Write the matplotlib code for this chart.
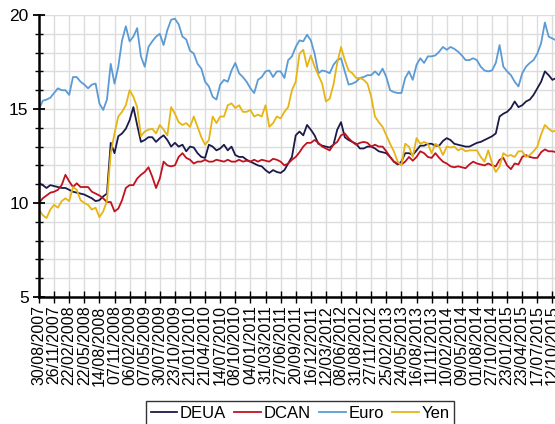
import numpy as np
import matplotlib
matplotlib.use("Agg")
import matplotlib.pyplot as plt
from matplotlib.ticker import MultipleLocator

plt.rcParams['font.family'] = ['Liberation Sans', 'DejaVu Sans']

tick_labels = [
    "30/08/2007", "26/11/2007", "22/02/2008", "22/05/2008", "14/08/2008",
    "07/11/2008", "06/02/2009", "07/05/2009", "30/07/2009", "23/10/2009",
    "21/01/2010", "21/04/2010", "14/07/2010", "08/10/2010", "04/01/2011",
    "31/03/2011", "27/06/2011", "20/09/2011", "16/12/2011", "12/03/2012",
    "08/06/2012", "31/08/2012", "27/11/2012", "25/02/2013", "24/05/2013",
    "16/08/2013", "11/11/2013", "10/02/2014", "09/05/2014", "01/08/2014",
    "27/10/2014", "23/01/2015", "23/04/2015", "17/07/2015", "12/10/2015",
]

deua = [
    11.05, 10.95, 10.8, 10.95, 10.9, 10.85, 10.8, 10.8, 10.7, 10.6, 10.55, 10.5,
    10.45, 10.35, 10.25, 10.1, 10.15, 10.35, 10.5, 13.2, 12.65, 13.55, 13.7, 13.95,
    14.4, 15.1, 14.15, 13.25, 13.35, 13.5, 13.5, 13.25, 13.45, 13.6, 13.35, 13.0,
    13.2, 13.0, 13.1, 12.75, 13.0, 12.95, 12.65, 12.45, 12.4, 13.1, 13.0, 12.8,
    12.9, 13.1, 12.8, 13.0, 12.55, 12.45, 12.45, 12.3, 12.2, 12.1, 12.0, 11.95,
    11.75, 11.6, 11.75, 11.65, 11.6, 11.75, 12.1, 12.45, 13.6, 13.8, 13.6, 14.15,
    13.9, 13.6, 13.15, 13.05, 13.0, 12.95, 13.1, 13.9, 14.3, 13.5, 13.35, 13.25,
    13.15, 12.9, 12.9, 13.0, 13.0, 12.9, 12.75, 12.7, 12.65, 12.45, 12.2, 12.05,
    12.2, 12.65, 12.65, 12.55, 12.8, 13.05, 13.05, 13.15, 13.15, 13.05, 13.05, 13.3,
    13.45, 13.35, 13.15, 13.1, 13.05, 13.0, 13.0, 13.1, 13.2, 13.25, 13.35, 13.45,
    13.55, 13.7, 14.6, 14.75, 14.85, 15.05, 15.4, 15.1, 15.2, 15.4, 15.5, 15.75,
    16.1, 16.45, 17.0, 16.8, 16.55, 16.65,
]

dcan = [
    10.0, 10.25, 10.4, 10.55, 10.6, 10.7, 10.95, 11.5, 11.15, 10.85, 11.05, 10.85,
    10.85, 10.85, 10.6, 10.5, 10.4, 10.25, 10.05, 10.05, 9.55, 9.7, 10.15, 10.8,
    10.95, 10.95, 11.3, 11.5, 11.65, 11.9, 11.4, 10.8, 11.3, 12.2, 12.0, 11.95,
    12.0, 12.45, 12.65, 12.4, 12.3, 12.1, 12.2, 12.2, 12.3, 12.2, 12.2, 12.3,
    12.25, 12.2, 12.3, 12.2, 12.2, 12.3, 12.2, 12.25, 12.2, 12.3, 12.2, 12.3,
    12.25, 12.2, 12.35, 12.3, 12.2, 12.0, 12.1, 12.3, 12.45, 12.7, 13.0, 13.2,
    13.2, 13.35, 13.2, 13.0, 12.9, 12.8, 13.1, 13.25, 13.6, 13.7, 13.45, 13.25,
    13.1, 13.2, 13.25, 13.2, 13.0, 13.1, 13.0, 13.0, 12.75, 12.45, 12.2, 12.1,
    12.05, 12.2, 12.45, 12.25, 12.45, 12.75, 12.65, 12.45, 12.4, 12.65, 12.4, 12.2,
    12.1, 11.95, 11.9, 11.95, 11.9, 11.85, 12.05, 12.2, 12.1, 12.05, 12.0, 12.1,
    12.0, 11.95, 12.3, 12.4, 12.0, 11.8, 12.1, 12.05, 12.45, 12.55, 12.45, 12.4,
    12.4, 12.7, 12.85, 12.75, 12.75, 12.7,
]

euro = [
    15.0, 15.44, 15.5, 15.6, 15.85, 16.1, 16.0, 16.0, 15.75, 16.7, 16.7, 16.45,
    16.3, 16.1, 16.3, 16.35, 15.3, 14.95, 15.5, 17.4, 16.35, 17.25, 18.65, 19.4,
    18.6, 18.85, 19.3, 17.8, 17.25, 18.3, 18.6, 18.85, 19.0, 18.4, 19.2, 19.75,
    19.8, 19.5, 18.85, 18.7, 18.1, 17.95, 17.4, 17.15, 16.45, 16.2, 15.65, 15.5,
    16.3, 16.55, 16.45, 17.05, 17.45, 16.9, 16.7, 16.45, 16.1, 15.85, 16.55, 16.7,
    17.0, 17.05, 16.7, 17.0, 17.0, 16.65, 17.6, 17.8, 18.3, 18.65, 18.6, 18.95,
    18.65, 17.95, 16.9, 17.05, 17.0, 16.9, 17.35, 17.6, 17.7, 17.0, 16.3, 16.35,
    16.45, 16.65, 16.7, 16.8, 16.8, 17.0, 16.8, 17.15, 16.7, 16.0, 15.9, 15.85,
    15.85, 16.65, 17.0, 16.55, 17.35, 17.7, 17.45, 17.8, 17.8, 17.85, 18.05, 18.3,
    18.15, 18.3, 18.2, 18.05, 17.85, 17.6, 17.6, 17.7, 17.6, 17.25, 17.05, 17.0,
    17.05, 17.45, 18.4, 17.25, 17.0, 16.8, 16.45, 16.2, 16.9, 17.25, 17.45, 17.6,
    17.95, 18.5, 19.6, 18.85, 18.75, 18.65,
]

yen = [
    9.65, 9.35, 9.2, 9.65, 9.9, 9.75, 10.1, 10.25, 10.1, 10.85, 10.7, 10.15,
    10.0, 9.9, 9.65, 9.75, 9.25, 9.55, 10.1, 12.65, 13.7, 14.6, 14.85, 15.2,
    16.0, 15.65, 15.1, 13.55, 13.8, 13.9, 13.95, 13.7, 14.15, 13.9, 13.6, 15.1,
    14.75, 14.3, 14.15, 14.25, 14.05, 14.6, 14.05, 13.5, 13.1, 13.35, 14.6, 14.25,
    14.6, 14.6, 15.2, 15.3, 15.05, 15.2, 14.85, 14.85, 14.95, 14.6, 14.7, 14.6,
    15.2, 14.05, 14.25, 14.6, 14.5, 14.85, 15.1, 16.0, 16.45, 17.95, 18.15, 17.25,
    17.85, 17.25, 16.8, 16.35, 15.4, 15.55, 16.3, 17.45, 18.3, 17.6, 17.05, 16.9,
    16.65, 16.65, 16.55, 16.35, 15.65, 14.6, 14.3, 14.05, 13.6, 13.15, 12.75, 12.2,
    12.0, 13.15, 13.0, 12.45, 13.45, 13.15, 13.25, 13.15, 12.65, 13.15, 13.0, 12.55,
    13.0, 12.95, 13.0, 12.8, 12.9, 12.75, 12.8, 12.8, 12.8, 12.45, 12.2, 12.8,
    12.1, 11.65, 11.95, 12.65, 12.5, 12.55, 12.45, 12.75, 12.75, 12.45, 12.55, 12.75,
    13.0, 13.65, 14.15, 13.95, 13.8, 13.85,
]

series = [("DEUA", deua, "#1c1a4a"), ("DCAN", dcan, "#c0131f"),
          ("Euro", euro, "#5b9bd5"), ("Yen", yen, "#e6b514")]

# category axis: 4 observations per labelled tick interval
obs = np.arange(len(deua)) / 4.0

fig = plt.figure(figsize=(5.55, 4.24), dpi=100)
ax = fig.add_axes([39 / 555, 1 - 297 / 424, 516 / 555, 282 / 424])

for name, vals, col in series:
    ax.plot(obs, vals, color=col, lw=1.3, label=name)

ax.set_xlim(0, 34.17)
ax.set_ylim(5, 20)
ax.set_xticks(np.arange(len(tick_labels)))
ax.set_xticklabels(tick_labels, rotation=90, fontsize=11.5)
ax.yaxis.set_major_locator(MultipleLocator(5))
ax.yaxis.set_minor_locator(MultipleLocator(1))
ax.tick_params(axis='y', which='major', labelsize=12.5, direction='inout', length=8, width=1.3)
ax.tick_params(axis='y', which='minor', direction='inout', length=6, width=1.0)
ax.tick_params(axis='x', which='major', direction='inout', length=8, width=1.0, pad=2)

ax.grid(True, which='major', axis='x', color='#dcdcdc', lw=1.0)
ax.grid(True, which='minor', axis='y', color='#dcdcdc', lw=1.0)
ax.grid(True, which='major', axis='y', color='#dcdcdc', lw=1.0)
ax.set_axisbelow(True)

for s in ('top', 'right'):
    ax.spines[s].set_visible(False)
for s in ('left', 'bottom'):
    ax.spines[s].set_linewidth(1.8)
    ax.spines[s].set_color('black')

leg = fig.legend(loc='upper center', bbox_to_anchor=(300 / 555, 1 - 401 / 424), ncol=4,
                 frameon=True, fancybox=False, edgecolor='black', fontsize=12,
                 handlelength=1.6, handletextpad=0.15, columnspacing=0.5,
                 borderpad=0.3, borderaxespad=0)
leg.get_frame().set_linewidth(1.0)

fig.savefig("out.png", dpi=100)
